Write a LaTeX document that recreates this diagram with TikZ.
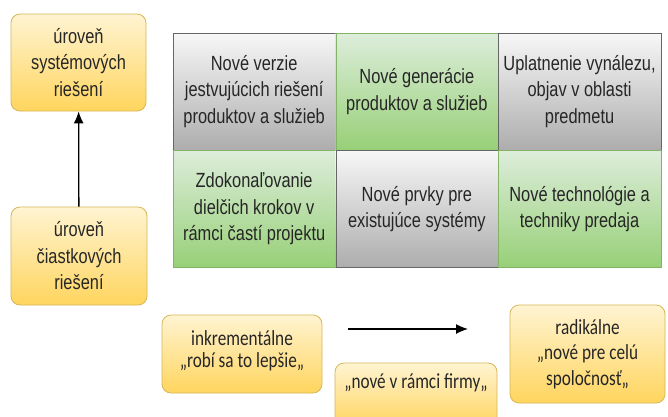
\documentclass[tikz,border=0pt]{standalone}
\usepackage{fontspec}
\setmainfont[FakeStretch=0.8]{Liberation Sans}
\newfontfamily\calfont[FakeStretch=0.8]{Carlito}
\usetikzlibrary{arrows.meta}
\usetikzlibrary{calc, positioning}

\definecolor{ylwTop}{HTML}{FFF4D2}
\definecolor{ylwBot}{HTML}{FFD55E}
\definecolor{ylwLine}{HTML}{D6B656}
\definecolor{grnTop}{HTML}{DDEDDB}
\definecolor{grnBot}{HTML}{97D077}
\definecolor{grnLine}{HTML}{82B366}
\definecolor{gryTop}{HTML}{F7F7F7}
\definecolor{gryBot}{HTML}{ADADAD}
\definecolor{gryLine}{HTML}{666666}

\begin{document}
\begin{tikzpicture}[x=1pt,y=1pt,
  font=\fontsize{20.5}{26.5}\selectfont,
  level/.style={draw=ylwLine, line width=0.8pt, rounded corners=9pt, top color=ylwTop, bottom color=ylwBot,
    align=center, inner sep=0pt, text=black!85},
  kind/.style={level, font=\calfont\fontsize{21.5}{25.5}\selectfont},
  gcell/.style={minimum width=162.3pt, minimum height=117pt, inner sep=0pt, align=center, text=black!85},
  gry/.style={gcell, draw=gryLine, top color=gryTop, bottom color=gryBot},
  grn/.style={gcell, draw=grnLine, top color=grnTop, bottom color=grnBot},
  arr/.style={-{Latex[length=12pt,width=10pt]}, line width=1.3pt}]
\useasboundingbox[fill=white] (0,0) rectangle (668,-416);
\def\cw{162.3}
\def\ch{117}
\coordinate (G) at (173,-33);

\node[level, minimum width=135pt, minimum height=97pt] (sys) at (78.5,-62.5) {úroveň\\systémových\\riešení};
\node[level, minimum width=136pt, minimum height=98pt] (cast) at (79,-256) {úroveň\\čiastkových\\riešení};
\draw[arr] (cast) -- (sys);

\node[gry] (c11) at ($(G)+(0.5*\cw,-0.5*\ch)$) {Nové verzie\\jestvujúcich riešení\\produktov a služieb};
\node[grn, right=0pt of c11] (c12) {Nové generácie\\produktov a služieb};
\node[gry, right=0pt of c12] (c13) {Uplatnenie vynálezu,\\objav v oblasti\\predmetu};
\node[grn, below=0pt of c11] (c21) {Zdokonaľovanie\\dielčich krokov v\\rámci častí projektu};
\node[gry, right=0pt of c21] (c22) {Nové prvky pre\\existujúce systémy};
\node[grn, right=0pt of c22] (c23) {Nové technológie a\\techniky predaja};

\node[kind, font=\calfont\fontsize{21.5}{22}\selectfont, minimum width=160pt, minimum height=78pt, text depth=9pt] (inkr) at (242,-354) {inkrementálne\\„robí sa to lepšie„};
\node[kind, minimum width=162pt, minimum height=64pt, text depth=27pt] (firmy) at (416,-395) {„nové v rámci firmy„};
\node[kind, minimum width=155pt, minimum height=98pt] (radi) at (587.5,-354) {radikálne\\„nové pre celú\\spoločnosť„};

\coordinate (aS) at (348,-329);
\coordinate (aE) at (468,-329);
\draw[arr] (aS) -- (aE);
\end{tikzpicture}
\end{document}
